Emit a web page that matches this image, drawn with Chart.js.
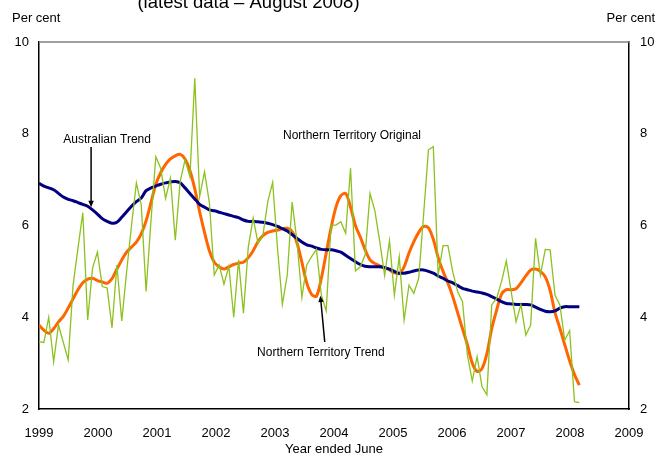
<!DOCTYPE html>
<html>
<head>
<meta charset="utf-8">
<script src="https://cdn.jsdelivr.net/npm/chart.js@4.4.1/dist/chart.umd.min.js"></script>
<style>
    html, body { margin: 0; padding: 0; background: #fff; }
    #wrap { width: 667px; height: 455px; }
</style>
</head>
<body>
<div id="wrap"><canvas id="chart" width="667" height="455"></canvas></div>
<script>
// year ended June labels, one per axis tick
const yearLabels = ["1999", "2000", "2001", "2002", "2003", "2004", "2005", "2006", "2007", "2008", "2009"];
// months between tick labels
const monthsPerTick = 12.12;

// monthly series, per cent
const ntOriginal = [
    3.47, 3.45, 4.00, 3.03, 3.83, 3.45, 3.07, 4.70, 5.50, 6.28, 3.94, 5.07,
    5.42, 4.67, 4.64, 3.77, 5.14, 3.92, 4.99, 6.00, 6.93, 6.45, 4.56, 6.10,
    7.50, 7.25, 6.59, 7.03, 5.68, 6.96, 7.43, 7.06, 9.21, 6.63, 7.17, 6.50,
    4.92, 5.14, 4.72, 5.11, 4.00, 5.25, 4.09, 5.54, 6.16, 5.61, 5.79, 6.52,
    6.94, 5.50, 4.28, 4.92, 6.51, 5.65, 4.43, 5.14, 5.32, 5.48, 4.48, 4.14,
    6.01, 6.01, 6.08, 5.83, 7.25, 5.01, 5.10, 5.36, 6.70, 6.32, 5.65, 4.91,
    5.67, 4.48, 5.32, 3.94, 4.70, 4.52, 4.85, 6.23, 7.65, 7.72, 4.92, 5.56,
    5.56, 4.99, 4.56, 4.34, 3.18, 2.61, 3.14, 2.49, 2.31, 4.27, 4.41, 4.77,
    5.23, 4.56, 3.90, 4.28, 3.61, 3.83, 5.72, 4.92, 5.48, 5.47, 4.48, 4.27,
    3.50, 3.71, 2.16, 2.14
];
const ntTrend = [
    3.83, 3.72, 3.65, 3.75, 3.90, 4.02, 4.20, 4.40, 4.60, 4.75, 4.83, 4.85,
    4.80, 4.77, 4.74, 4.84, 5.05, 5.25, 5.42, 5.53, 5.64, 5.82, 6.10, 6.50,
    6.90, 7.15, 7.33, 7.45, 7.52, 7.55, 7.45, 7.20, 6.80, 6.30, 5.85, 5.45,
    5.20, 5.10, 5.05, 5.10, 5.15, 5.18, 5.20, 5.30, 5.45, 5.65, 5.78, 5.85,
    5.88, 5.90, 5.93, 5.94, 5.87, 5.62, 5.20, 4.75, 4.50, 4.46, 4.85, 5.40,
    5.95, 6.40, 6.65, 6.70, 6.40, 6.00, 5.75, 5.47, 5.25, 5.17, 5.12, 5.08,
    5.03, 4.97, 4.95, 5.10, 5.40, 5.65, 5.85, 5.98, 5.95, 5.70, 5.30, 5.00,
    4.75, 4.45, 4.10, 3.75, 3.40, 3.00, 2.82, 2.88, 3.20, 3.75, 4.15, 4.50,
    4.60, 4.60, 4.62, 4.75, 4.90, 5.03, 5.05, 5.00, 4.88, 4.58, 4.10, 3.76,
    3.40, 3.05, 2.75, 2.52
];
const ausTrend = [
    6.92, 6.86, 6.82, 6.78, 6.70, 6.62, 6.57, 6.54, 6.50, 6.46, 6.42, 6.34,
    6.25, 6.15, 6.09, 6.05, 6.07, 6.18, 6.30, 6.42, 6.52, 6.60, 6.76, 6.82,
    6.86, 6.90, 6.93, 6.95, 6.96, 6.93, 6.82, 6.70, 6.58, 6.46, 6.40, 6.34,
    6.32, 6.29, 6.26, 6.23, 6.20, 6.17, 6.12, 6.09, 6.09, 6.08, 6.07, 6.05,
    6.02, 5.98, 5.93, 5.88, 5.80, 5.72, 5.64, 5.58, 5.55, 5.51, 5.48, 5.47,
    5.47, 5.45, 5.42, 5.35, 5.28, 5.21, 5.15, 5.11, 5.10, 5.10, 5.10, 5.08,
    5.05, 5.00, 4.96, 4.96, 4.98, 5.01, 5.03, 5.03, 5.00, 4.96, 4.90, 4.85,
    4.79, 4.75, 4.69, 4.63, 4.60, 4.57, 4.55, 4.53, 4.50, 4.45, 4.40, 4.34,
    4.30, 4.29, 4.28, 4.28, 4.28, 4.27, 4.22, 4.17, 4.13, 4.12, 4.14, 4.20,
    4.23, 4.23, 4.23, 4.23
];

// text labels placed in data units (month index, per cent)
const notes = [
    { text: "Australian Trend", month: 14.0, value: 7.86 },
    { text: "Northern Territory Original", month: 64.3, value: 7.95 },
    { text: "Northern Territory Trend", month: 57.9, value: 3.23 }
];
const arrows = [
    { from: [10.7, 7.71], to: [10.7, 6.40] },
    { from: [58.7, 3.46], to: [57.8, 4.47] }
];

const months = ntOriginal.map((_, i) => i);
const fontFamily = "'Liberation Sans', Arial, sans-serif";
Chart.defaults.font.family = fontFamily;
Chart.defaults.color = "#000";

function drawArrow(ctx, x1, y1, x2, y2) {
    const angle = Math.atan2(y2 - y1, x2 - x1);
    const head = 7;
    ctx.beginPath();
    ctx.moveTo(x1, y1);
    ctx.lineTo(x2 - Math.cos(angle) * head * 0.8, y2 - Math.sin(angle) * head * 0.8);
    ctx.stroke();
    ctx.beginPath();
    ctx.moveTo(x2, y2);
    ctx.lineTo(x2 - head * Math.cos(angle - 0.4), y2 - head * Math.sin(angle - 0.4));
    ctx.lineTo(x2 - head * Math.cos(angle + 0.4), y2 - head * Math.sin(angle + 0.4));
    ctx.closePath();
    ctx.fill();
}

const extras = {
    id: "extras",
    afterDraw(chart) {
        const { ctx, chartArea } = chart;
        const xs = chart.scales.x;
        const ys = chart.scales.y;
        ctx.save();
        // top frame line
        ctx.strokeStyle = "#808080";
        ctx.lineWidth = 1.5;
        ctx.beginPath();
        ctx.moveTo(chartArea.left, chartArea.top);
        ctx.lineTo(chartArea.right, chartArea.top);
        ctx.stroke();

        ctx.fillStyle = "#000";
        ctx.textBaseline = "middle";
        ctx.font = "13px " + fontFamily;
        ctx.textAlign = "left";
        ctx.fillText("Per cent", 12, 18);
        ctx.textAlign = "right";
        ctx.fillText("Per cent", 655, 18);

        // x axis title
        ctx.textAlign = "center";
        ctx.fillText("Year ended June", (chartArea.left + chartArea.right) / 2, 449);

        // title, cut off at the top of the picture
        ctx.font = "18.5px " + fontFamily;
        ctx.textBaseline = "alphabetic";
        ctx.fillText("(latest data \u2013 August 2008)", 248.5, 8);

        ctx.font = "12px " + fontFamily;
        ctx.textBaseline = "middle";
        for (const note of notes) {
            ctx.fillText(note.text, xs.getPixelForValue(note.month), ys.getPixelForValue(note.value));
        }
        ctx.strokeStyle = "#000";
        ctx.lineWidth = 1.5;
        for (const a of arrows) {
            drawArrow(ctx,
                xs.getPixelForValue(a.from[0]), ys.getPixelForValue(a.from[1]),
                xs.getPixelForValue(a.to[0]), ys.getPixelForValue(a.to[1]));
        }
        ctx.restore();
    }
};

const yTicks = { stepSize: 2, color: "#000", font: { size: 13 } };

new Chart(document.getElementById("chart"), {
    type: "line",
    data: {
        labels: months,
        datasets: [
            {
                label: "Northern Territory Original",
                data: ntOriginal,
                borderColor: "#8CC11E",
                borderWidth: 1.3,
                pointRadius: 0,
                tension: 0,
                fill: false
            },
            {
                label: "Australian Trend",
                data: ausTrend,
                borderColor: "#000080",
                borderWidth: 3,
                pointRadius: 0,
                tension: 0.3,
                fill: false
            },
            {
                label: "Northern Territory Trend",
                data: ntTrend,
                borderColor: "#FF6600",
                borderWidth: 3,
                pointRadius: 0,
                tension: 0.3,
                fill: false
            }
        ]
    },
    options: {
        responsive: false,
        animation: false,
        layout: { padding: { left: 0, right: 0, top: 42, bottom: 0 } },
        plugins: { legend: { display: false }, tooltip: { enabled: false } },
        scales: {
            x: {
                type: "linear",
                min: 0,
                max: monthsPerTick * (yearLabels.length - 1),
                grid: { display: false, drawTicks: false },
                border: { color: "#000", width: 1.5 },
                afterBuildTicks: scale => {
                    scale.ticks = yearLabels.map((_, k) => ({ value: k * monthsPerTick }));
                },
                afterFit: scale => { scale.height = 46; },
                ticks: {
                    autoSkip: false,
                    maxRotation: 0,
                    padding: 17,
                    color: "#000",
                    font: { size: 13 },
                    callback: (value, index) => yearLabels[index]
                }
            },
            y: {
                min: 2,
                max: 10,
                grid: { display: false, drawTicks: false },
                border: { color: "#000", width: 1.5 },
                afterFit: scale => { scale.width = 39; },
                ticks: { ...yTicks, padding: 10 }
            },
            y2: {
                position: "right",
                min: 2,
                max: 10,
                grid: { display: false, drawTicks: false },
                border: { color: "#000", width: 1.5 },
                afterFit: scale => { scale.width = 38; },
                ticks: { ...yTicks, padding: 11 }
            }
        }
    },
    plugins: [extras]
});
</script>
</body>
</html>
